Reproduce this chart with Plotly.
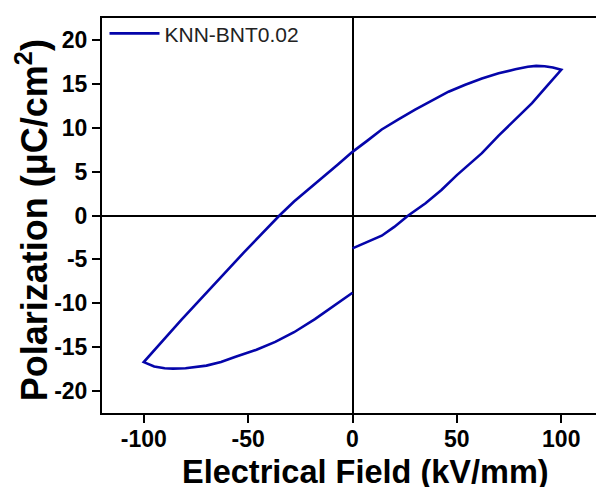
import plotly.graph_objects as go

field = [0, 7, 14, 20, 26.7, 35, 42.6, 50, 57, 62, 70, 78, 86, 93, 100,
         96, 92, 88, 84, 78, 70, 62, 54, 46, 38, 30, 22, 14, 7, 0,
         -7, -14, -19.4, -28, -35, -44, -52, -59, -67, -75, -82, -88, -94, -100,
         -95, -90, -86, -80, -70, -63, -56, -46, -37, -28, -18, -9, 0]
polarization = [-3.75, -3.05, -2.3, -1.3, 0, 1.4, 2.9, 4.6, 6.1, 7.1, 9.1, 11.0, 12.8, 14.7, 16.6,
                16.85, 17.0, 17.05, 16.95, 16.65, 16.2, 15.6, 14.9, 14.1, 13.1, 12.05, 10.95, 9.8, 8.5, 7.25,
                5.8, 4.4, 3.3, 1.6, 0, -2.2, -4.2, -6.0, -8.1, -10.1, -11.9, -13.5, -15.1, -16.7,
                -17.2, -17.4, -17.45, -17.4, -17.1, -16.7, -16.1, -15.3, -14.4, -13.3, -11.8, -10.3, -8.8]

series_name = "KNN-BNT0.02"
x_title = "Electrical Field (kV/mm)"
y_title = "Polarization (μC/cm<sup>2</sup>)"
x_ticks = [-100, -50, 0, 50, 100]
y_ticks = [-20, -15, -10, -5, 0, 5, 10, 15, 20]
x_ticktext = [str(v) for v in x_ticks]
y_ticktext = [str(v) for v in y_ticks]

FONT = "Liberation Sans, Arial, sans-serif"

fig = go.Figure()
fig.add_trace(go.Scatter(
    x=field, y=polarization, mode="lines", name=series_name,
    line=dict(color="#0505aa", width=2.6),
    showlegend=True,
))

axis_common = dict(
    showline=True, linecolor="black", linewidth=2, mirror=True,
    ticks="outside", ticklen=8, tickwidth=2, tickcolor="black",
    showgrid=False, automargin=False,
    zeroline=True, zerolinecolor="black", zerolinewidth=2,
    tickfont=dict(family=FONT, size=23, color="black", weight="bold"),
)

# the page body adds an 8 px offset, margins compensate for it
fig.update_layout(
    width=604, height=487,
    margin=dict(l=94, r=9, t=5, b=82),
    paper_bgcolor="white", plot_bgcolor="white",
    showlegend=True,
    legend=dict(x=0.005, y=1.012, xanchor="left", yanchor="top",
                itemwidth=50,
                bgcolor="rgba(0,0,0,0)",
                font=dict(family=FONT, size=21, color="#222")),
    xaxis=dict(range=[-120, 120], tickvals=x_ticks, ticktext=x_ticktext,
               ticklabelstandoff=-4, **axis_common),
    yaxis=dict(range=[-22.5, 22.5], tickvals=y_ticks, ticktext=y_ticktext,
               **axis_common),
    annotations=[
        dict(text=x_title, xref="paper", yref="paper", x=0.525, y=-0.15,
             xanchor="center", yanchor="middle", showarrow=False,
             font=dict(family=FONT, size=32.5, color="black", weight="bold")),
        dict(text=y_title, xref="paper", yref="paper", x=-0.141, y=0.489,
             xanchor="center", yanchor="middle", showarrow=False, textangle=-90,
             font=dict(family=FONT, size=36, color="black", weight="bold")),
    ],
)

fig.write_html("out.html")
